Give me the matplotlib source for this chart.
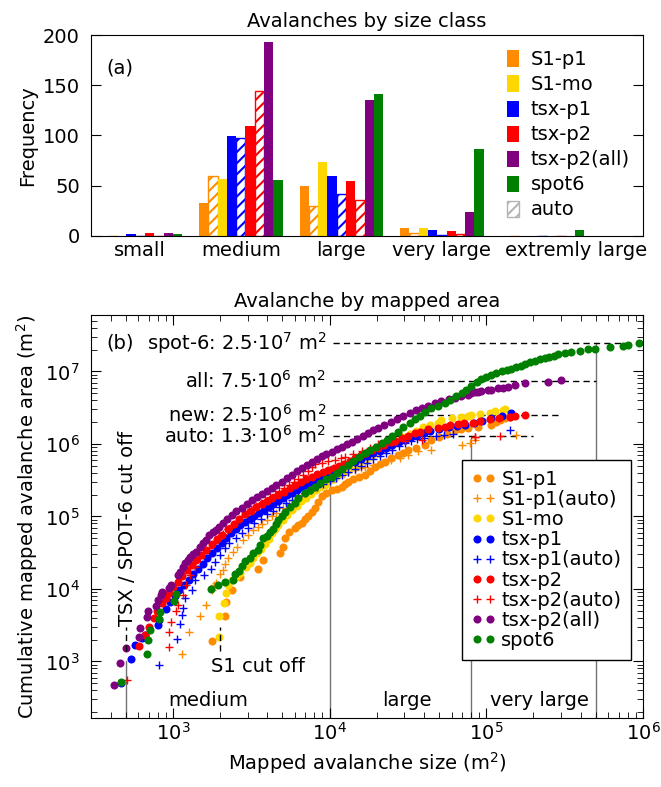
import numpy as np
import matplotlib
matplotlib.use('Agg')
import matplotlib.pyplot as plt
import matplotlib.transforms as mtransforms
from matplotlib.patches import Patch

plt.rcParams['font.family'] = ['DejaVu Sans']
plt.rcParams['font.size'] = 14
plt.rcParams['mathtext.default'] = 'regular'
plt.rcParams['hatch.linewidth'] = 1.5

# ---------------- panel (a): counts per size class ----------------
classes = ['small', 'medium', 'large', 'very large', 'extremly large']
n_s1p1 = [0, 33, 50, 8, 0]
n_s1p1_auto = [0, 60, 30, 3, 0]
n_s1mo = [0, 57, 73, 8, 0]
n_tsxp1 = [2, 99, 60, 6, 0]
n_tsxp1_auto = [0, 97, 42, 1, 0]
n_tsxp2 = [3, 109, 55, 5, 0]
n_tsxp2_auto = [0, 144, 36, 2, 0]
n_tsxp2_all = [3, 193, 135, 24, 0]
n_spot6 = [2, 56, 141, 86, 6]

# ---------------- panel (b): (log10 size, log10 cumulative area) ----------------
s1p1 = [(3.248, 3.28), (3.333, 3.63), (3.337, 3.82), (3.375, 3.99), (3.429, 4.17),
        (3.545, 4.27), (3.577, 4.40), (3.683, 4.50), (3.70, 4.58), (3.715, 4.70),
        (3.741, 4.79), (3.779, 4.84), (3.80, 4.88), (3.822, 4.91), (3.845, 4.96),
        (3.864, 5.00), (3.885, 5.06), (3.907, 5.12), (3.928, 5.20), (3.949, 5.28),
        (3.975, 5.33), (4.013, 5.37), (4.045, 5.38), (4.077, 5.40), (4.10, 5.45),
        (4.119, 5.48), (4.15, 5.51), (4.19, 5.54), (4.225, 5.57), (4.255, 5.62),
        (4.289, 5.68), (4.32, 5.72), (4.353, 5.756), (4.39, 5.80), (4.438, 5.85),
        (4.47, 5.88), (4.502, 5.917), (4.55, 5.95), (4.608, 5.99), (4.65, 6.05),
        (4.70, 6.09), (4.75, 6.14), (4.799, 6.19), (4.84, 6.20), (4.884, 6.216),
        (4.95, 6.24), (5.033, 6.262), (5.06, 6.30), (5.086, 6.331), (5.118, 6.354),
        (5.15, 6.368)]
s1p1_auto = [(3.057, 3.10), (3.103, 3.41), (3.17, 3.62), (3.21, 3.78), (3.248, 3.99),
             (3.259, 4.06), (3.272, 4.08), (3.30, 4.20), (3.318, 4.26), (3.335, 4.35),
             (3.35, 4.42), (3.382, 4.515), (3.41, 4.58), (3.446, 4.676), (3.48, 4.75),
             (3.51, 4.81), (3.54, 4.86), (3.57, 4.90), (3.60, 4.95), (3.63, 5.00),
             (3.66, 5.05), (3.70, 5.11), (3.74, 5.17), (3.78, 5.23), (3.82, 5.28),
             (3.86, 5.33), (3.90, 5.38), (3.94, 5.43), (3.98, 5.48), (4.013, 5.52),
             (4.05, 5.55), (4.09, 5.58), (4.119, 5.61), (4.16, 5.64), (4.20, 5.67),
             (4.225, 5.687), (4.28, 5.71), (4.332, 5.733), (4.395, 5.78), (4.45, 5.81),
             (4.502, 5.848), (4.565, 5.90), (4.65, 5.92), (4.842, 5.98), (4.895, 6.01),
             (4.926, 6.055), (5.192, 6.12)]
s1mo = [(3.295, 3.34), (3.297, 3.63), (3.326, 3.81), (3.339, 3.95), (3.354, 4.055),
        (3.38, 4.124), (3.403, 4.17), (3.43, 4.22), (3.467, 4.30), (3.49, 4.36),
        (3.509, 4.42), (3.535, 4.49), (3.563, 4.55), (3.588, 4.62), (3.61, 4.69),
        (3.63, 4.77), (3.65, 4.83), (3.673, 4.88), (3.70, 4.95), (3.73, 5.02),
        (3.758, 5.09), (3.79, 5.15), (3.82, 5.21), (3.85, 5.26), (3.88, 5.31),
        (3.91, 5.36), (3.94, 5.40), (3.97, 5.44), (3.992, 5.47), (4.03, 5.52),
        (4.07, 5.58), (4.11, 5.63), (4.15, 5.68), (4.19, 5.73), (4.23, 5.78),
        (4.27, 5.83), (4.31, 5.88), (4.35, 5.93), (4.39, 5.99), (4.43, 6.04),
        (4.47, 6.09), (4.51, 6.14), (4.55, 6.18), (4.597, 6.24), (4.64, 6.265),
        (4.693, 6.294), (4.714, 6.331), (4.778, 6.354), (4.84, 6.37), (4.884, 6.386),
        (4.905, 6.40), (4.96, 6.41), (5.022, 6.432), (5.054, 6.455), (5.107, 6.469),
        (5.118, 6.478)]
tsxp1 = [(2.670, 2.708), (2.732, 3.04), (2.755, 3.23), (2.80, 3.33), (2.823, 3.37),
         (2.904, 3.50), (2.908, 3.57), (2.955, 3.72), (2.98, 3.82), (3.01, 3.90),
         (3.04, 3.98), (3.07, 4.06), (3.10, 4.13), (3.13, 4.20), (3.16, 4.28),
         (3.19, 4.35), (3.22, 4.42), (3.25, 4.49), (3.28, 4.56), (3.31, 4.63),
         (3.34, 4.70), (3.37, 4.77), (3.40, 4.83), (3.43, 4.88), (3.46, 4.93),
         (3.49, 4.97), (3.52, 5.01), (3.55, 5.05), (3.58, 5.09), (3.61, 5.13),
         (3.64, 5.17), (3.67, 5.21), (3.70, 5.25), (3.73, 5.29), (3.76, 5.33),
         (3.79, 5.37), (3.82, 5.41), (3.85, 5.44), (3.88, 5.47), (3.91, 5.50),
         (3.94, 5.53), (3.97, 5.56), (4.00, 5.59), (4.04, 5.63), (4.08, 5.67),
         (4.12, 5.71), (4.16, 5.75), (4.20, 5.79), (4.24, 5.83), (4.28, 5.87),
         (4.32, 5.90), (4.36, 5.94), (4.40, 5.98), (4.44, 6.02), (4.48, 6.06),
         (4.52, 6.09), (4.56, 6.12), (4.60, 6.15), (4.64, 6.18), (4.70, 6.21),
         (4.76, 6.235), (4.81, 6.25), (4.863, 6.262), (4.92, 6.29), (4.97, 6.32),
         (5.033, 6.354), (5.10, 6.39), (5.16, 6.42)]
tsxp1_auto = [(2.914, 2.95), (3.025, 3.31), (3.042, 3.51), (3.061, 3.64), (3.063, 3.74),
              (3.078, 3.87), (3.12, 3.99), (3.142, 4.12), (3.20, 4.19), (3.24, 4.27),
              (3.27, 4.37), (3.30, 4.47), (3.33, 4.56), (3.36, 4.64), (3.40, 4.70),
              (3.44, 4.77), (3.48, 4.84), (3.52, 4.91), (3.56, 4.97), (3.60, 5.03),
              (3.64, 5.08), (3.68, 5.13), (3.72, 5.18), (3.76, 5.23), (3.80, 5.28),
              (3.84, 5.32), (3.88, 5.36), (3.92, 5.41), (3.96, 5.45), (4.00, 5.49),
              (4.04, 5.53), (4.08, 5.57), (4.12, 5.61), (4.16, 5.65), (4.20, 5.70),
              (4.24, 5.74), (4.28, 5.79), (4.32, 5.83), (4.36, 5.87), (4.40, 5.92),
              (4.44, 5.97), (4.48, 6.01), (4.52, 6.04), (4.555, 6.064), (4.60, 6.08),
              (4.682, 6.11), (4.73, 6.12), (4.788, 6.138), (5.15, 6.19)]
tsxp2 = [(2.783, 3.21), (2.82, 3.37), (2.845, 3.48), (2.876, 3.60), (2.90, 3.69),
         (2.93, 3.80), (2.955, 3.88), (2.978, 3.95), (3.00, 4.02), (3.03, 4.10),
         (3.06, 4.18), (3.09, 4.26), (3.12, 4.33), (3.15, 4.40), (3.18, 4.47),
         (3.21, 4.54), (3.248, 4.62), (3.28, 4.69), (3.31, 4.75), (3.354, 4.83),
         (3.39, 4.90), (3.42, 4.96), (3.461, 5.03), (3.50, 5.08), (3.53, 5.13),
         (3.567, 5.17), (3.60, 5.21), (3.635, 5.25), (3.673, 5.29), (3.71, 5.34),
         (3.745, 5.39), (3.779, 5.44), (3.815, 5.48), (3.85, 5.51), (3.886, 5.55),
         (3.92, 5.58), (3.955, 5.61), (3.99, 5.64), (4.025, 5.67), (4.06, 5.70),
         (4.095, 5.73), (4.13, 5.77), (4.165, 5.81), (4.20, 5.85), (4.235, 5.88),
         (4.27, 5.91), (4.31, 5.94), (4.35, 5.98), (4.39, 6.02), (4.42, 6.04),
         (4.46, 6.08), (4.50, 6.11), (4.544, 6.147), (4.58, 6.17), (4.629, 6.20),
         (4.693, 6.22), (4.735, 6.24), (4.767, 6.26), (4.82, 6.276), (4.86, 6.285),
         (4.916, 6.294), (4.958, 6.322), (5.022, 6.34), (5.08, 6.355), (5.15, 6.37),
         (5.181, 6.385), (5.245, 6.40)]
tsxp2_auto = [(2.706, 2.745), (2.972, 3.20), (2.976, 3.41), (2.989, 3.55), (3.018, 3.69),
              (3.035, 3.78), (3.067, 3.92), (3.082, 4.06), (3.106, 4.19), (3.138, 4.30),
              (3.17, 4.42), (3.20, 4.50), (3.23, 4.57), (3.26, 4.64), (3.29, 4.70),
              (3.32, 4.76), (3.35, 4.82), (3.38, 4.88), (3.41, 4.94), (3.44, 5.00),
              (3.47, 5.05), (3.50, 5.10), (3.53, 5.15), (3.56, 5.19), (3.59, 5.23),
              (3.62, 5.27), (3.65, 5.31), (3.68, 5.35), (3.71, 5.39), (3.74, 5.43),
              (3.77, 5.47), (3.80, 5.52), (3.83, 5.57), (3.864, 5.62), (3.885, 5.687),
              (3.907, 5.72), (3.95, 5.74), (3.99, 5.76), (4.034, 5.78), (4.07, 5.80),
              (4.098, 5.825), (4.15, 5.86), (4.204, 5.90), (4.26, 5.95), (4.31, 6.00),
              (4.36, 6.02), (4.42, 6.03), (4.48, 6.04), (4.587, 6.055), (4.926, 6.092),
              (4.93, 6.10), (5.086, 6.115)]
tsxp2_all = [(2.624, 2.676), (2.660, 2.975), (2.702, 3.182), (2.783, 3.343), (2.787, 3.458),
             (2.834, 3.619), (2.840, 3.701), (2.893, 3.766), (2.904, 3.849), (2.925, 3.918),
             (2.932, 3.963), (2.978, 4.009), (2.989, 4.055), (3.031, 4.193), (3.042, 4.239),
             (3.063, 4.308), (3.080, 4.36), (3.095, 4.40), (3.106, 4.446), (3.125, 4.48),
             (3.148, 4.515), (3.170, 4.584), (3.190, 4.63), (3.212, 4.676), (3.233, 4.745),
             (3.255, 4.78), (3.276, 4.814), (3.297, 4.86), (3.318, 4.906), (3.345, 4.96),
             (3.376, 5.021), (3.405, 5.07), (3.439, 5.113), (3.47, 5.17), (3.503, 5.228),
             (3.535, 5.27), (3.567, 5.31), (3.60, 5.35), (3.63, 5.389), (3.66, 5.435),
             (3.694, 5.48), (3.726, 5.525), (3.758, 5.572), (3.79, 5.63), (3.822, 5.67),
             (3.854, 5.71), (3.886, 5.75), (3.918, 5.79), (3.949, 5.83), (3.98, 5.86),
             (4.013, 5.89), (4.045, 5.93), (4.077, 5.96), (4.11, 6.00), (4.14, 6.03),
             (4.175, 6.07), (4.21, 6.11), (4.245, 6.15), (4.28, 6.19), (4.31, 6.22),
             (4.35, 6.26), (4.39, 6.30), (4.43, 6.35), (4.47, 6.39), (4.51, 6.43),
             (4.55, 6.47), (4.59, 6.50), (4.63, 6.53), (4.67, 6.56), (4.714, 6.59),
             (4.76, 6.62), (4.80, 6.64), (4.84, 6.66), (4.884, 6.68), (4.905, 6.70),
             (4.926, 6.71), (4.95, 6.72), (4.969, 6.731), (5.011, 6.745), (5.033, 6.75),
             (5.075, 6.765), (5.107, 6.775), (5.139, 6.79), (5.181, 6.814), (5.245, 6.84),
             (5.394, 6.86), (5.479, 6.883)]
spot6 = [(2.670, 2.712), (2.834, 3.10), (2.844, 3.30), (2.851, 3.44), (2.910, 3.58),
         (2.918, 3.68), (3.006, 3.83), (3.017, 3.93), (3.244, 4.00), (3.29, 4.05),
         (3.33, 4.09), (3.386, 4.124), (3.397, 4.20), (3.42, 4.25), (3.439, 4.31),
         (3.46, 4.38), (3.492, 4.43), (3.513, 4.50), (3.545, 4.54), (3.556, 4.61),
         (3.577, 4.70), (3.60, 4.73), (3.62, 4.78), (3.641, 4.83), (3.66, 4.90),
         (3.673, 4.95), (3.695, 5.01), (3.716, 5.067), (3.745, 5.13), (3.779, 5.182),
         (3.80, 5.26), (3.843, 5.32), (3.875, 5.37), (3.907, 5.41), (3.94, 5.46),
         (3.975, 5.51), (4.013, 5.55), (4.045, 5.60), (4.08, 5.66), (4.119, 5.71),
         (4.15, 5.76), (4.19, 5.82), (4.225, 5.87), (4.26, 5.92), (4.295, 5.96),
         (4.332, 6.01), (4.365, 6.06), (4.40, 6.11), (4.438, 6.17), (4.47, 6.23),
         (4.51, 6.29), (4.544, 6.35), (4.575, 6.39), (4.61, 6.44), (4.65, 6.49),
         (4.69, 6.53), (4.735, 6.56), (4.77, 6.61), (4.805, 6.655), (4.842, 6.70),
         (4.87, 6.75), (4.905, 6.80), (4.94, 6.85), (4.969, 6.89), (5.00, 6.92),
         (5.03, 6.95), (5.06, 6.975), (5.10, 7.00), (5.13, 7.02), (5.16, 7.04),
         (5.19, 7.06), (5.22, 7.08), (5.25, 7.10), (5.28, 7.13), (5.31, 7.15),
         (5.34, 7.165), (5.373, 7.18), (5.40, 7.20), (5.43, 7.22), (5.458, 7.24),
         (5.50, 7.25), (5.543, 7.273), (5.596, 7.287), (5.649, 7.306), (5.691, 7.315),
         (5.787, 7.333), (5.872, 7.352), (5.904, 7.365), (5.974, 7.397)]

# size class limits and where their marker lines stop
class_edges = [500, 1e4, 8e4, 5e5]
class_edge_tops = [1e3, 5e5, 1.3e6, 2.5e7]
class_names_b = ['medium', 'large', 'very large']
class_label_x = [1675, 3.1e4, 2.17e5]

# total mapped areas
total_labels = ['spot-6: 2.5·10$^7$ m$^2$', 'all: 7.5·10$^6$ m$^2$',
                'new: 2.5·10$^6$ m$^2$', 'auto: 1.3·10$^6$ m$^2$']
total_values = [2.5e7, 7.5e6, 2.5e6, 1.3e6]
total_line_end = [8.5e5, 5e5, 3e5, 2e5]

fig = plt.figure(figsize=(6.61, 7.87), dpi=100)
ax1 = fig.add_axes([0.1377, 0.7005, 0.835, 0.255])
ax2 = fig.add_axes([0.1377, 0.0877, 0.835, 0.512])

# ---- panel (a)
bar_series = [(n_s1p1, 'darkorange', False), (n_s1p1_auto, 'darkorange', True),
              (n_s1mo, 'gold', False), (n_tsxp1, 'blue', False),
              (n_tsxp1_auto, 'blue', True), (n_tsxp2, 'red', False),
              (n_tsxp2_auto, 'red', True), (n_tsxp2_all, 'purple', False),
              (n_spot6, 'green', False)]
w = 0.0925
pos = np.arange(len(classes))
for j, (vals, col, auto) in enumerate(bar_series):
    xs = pos + (j - 4) * w
    if auto:
        ax1.bar(xs, vals, w, facecolor='white', edgecolor=col, hatch='///', linewidth=1)
    else:
        ax1.bar(xs, vals, w, color=col, linewidth=0)

ax1.set_xlim(-0.49, 5.0)
ax1.set_ylim(0, 200)
ax1.set_yticks([0, 50, 100, 150, 200])
ax1.set_xticks([0, 1, 2, 3, 4.33])
ax1.set_xticklabels(classes)
ax1.tick_params(axis='x', length=0)
ax1.tick_params(axis='y', direction='in', right=True, length=7, pad=8)
ax1.set_ylabel('Frequency')
ax1.set_title('Avalanches by size class', fontsize=14)
ax1.text(0.027, 0.834, '(a)', transform=ax1.transAxes, va='center')

leg_handles = [Patch(facecolor=c, edgecolor=c, linewidth=0)
               for c in ['darkorange', 'gold', 'blue', 'red', 'purple', 'green']]
leg_handles.append(Patch(facecolor='white', edgecolor='0.7', hatch='///', linewidth=1))
ax1.legend(leg_handles, ['S1-p1', 'S1-mo', 'tsx-p1', 'tsx-p2', 'tsx-p2(all)', 'spot6', 'auto'],
           loc='upper left', bbox_to_anchor=(0.740, 0.963), frameon=False,
           handlelength=0.6, handleheight=0.9, handletextpad=0.62,
           labelspacing=0.31, borderaxespad=0, borderpad=0.4)

# ---- panel (b)
grey = '0.45'
dash = (4.5, 3)
ylow = 166
for xe, yt in zip(class_edges, class_edge_tops):
    ax2.plot([xe, xe], [ylow, yt], color=grey, lw=1, zorder=1)
for lab, val, xend in zip(total_labels, total_values, total_line_end):
    ax2.plot([1.05e4, xend], [val, val], color='black', lw=1, dashes=dash, zorder=1)
    ax2.text(9.5e3, val, lab, ha='right', va='center')

line_series = [(s1p1, 'darkorange', 'o', 'S1-p1'),
               (s1p1_auto, 'darkorange', '+', 'S1-p1(auto)'),
               (s1mo, 'gold', 'o', 'S1-mo'),
               (tsxp1, 'blue', 'o', 'tsx-p1'),
               (tsxp1_auto, 'blue', '+', 'tsx-p1(auto)'),
               (tsxp2, 'red', 'o', 'tsx-p2'),
               (tsxp2_auto, 'red', '+', 'tsx-p2(auto)'),
               (tsxp2_all, 'purple', 'o', 'tsx-p2(all)'),
               (spot6, 'green', 'o', 'spot6')]
for pts, col, mk, lab in line_series:
    a = np.array(pts)
    if mk == 'o':
        ax2.plot(10 ** a[:, 0], 10 ** a[:, 1], linestyle='none', marker='o', ms=5.8,
                 mew=0, color=col, label=lab, zorder=2)
    else:
        ax2.plot(10 ** a[:, 0], 10 ** a[:, 1], linestyle='none', marker='+', ms=6.2,
                 mew=1, color=col, label=lab, zorder=2)

# cut off markers
ax2.plot([500, 500], [1.4e3, 3e3], color='black', lw=1, dashes=dash)
ax2.plot([2000, 2000], [1.4e3, 3e3], color='black', lw=1, dashes=dash)
ax2.text(513, 3.1e3, 'TSX / SPOT-6 cut off', rotation=90, ha='center', va='bottom')
ax2.text(1750, 723, 'S1 cut off', ha='left', va='baseline')

trans = mtransforms.blended_transform_factory(ax2.transData, ax2.transAxes)
for name, xc in zip(class_names_b, class_label_x):
    ax2.text(xc, 0.03, name, transform=trans, ha='center', va='baseline')

ax2.text(0.027, 0.93, '(b)', transform=ax2.transAxes, va='center')

ax2.set_xscale('log')
ax2.set_yscale('log')
ax2.set_xlim(300, 1e6)
ax2.set_ylim(ylow, 6e7)
ax2.tick_params(which='both', direction='in', top=True, right=True)
ax2.tick_params(which='major', length=7)
ax2.tick_params(which='minor', length=4)
ax2.tick_params(axis='y', which='both', pad=8)
ax2.tick_params(axis='x', which='both', pad=3)
ax2.set_xlabel('Mapped avalanche size (m$^2$)')
ax2.set_ylabel('Cumulative mapped avalanche area (m$^2$)')
ax2.set_title('Avalanche by mapped area', fontsize=14)

leg = ax2.legend(loc='upper left', bbox_to_anchor=(0.672, 0.640), borderaxespad=0,
                 numpoints=2, handlelength=1.23, handletextpad=0.3, labelspacing=0.06,
                 borderpad=0.5, fancybox=False, edgecolor='black', framealpha=1)
leg.get_frame().set_linewidth(1.0)

fig.savefig('out.png', dpi=100)
